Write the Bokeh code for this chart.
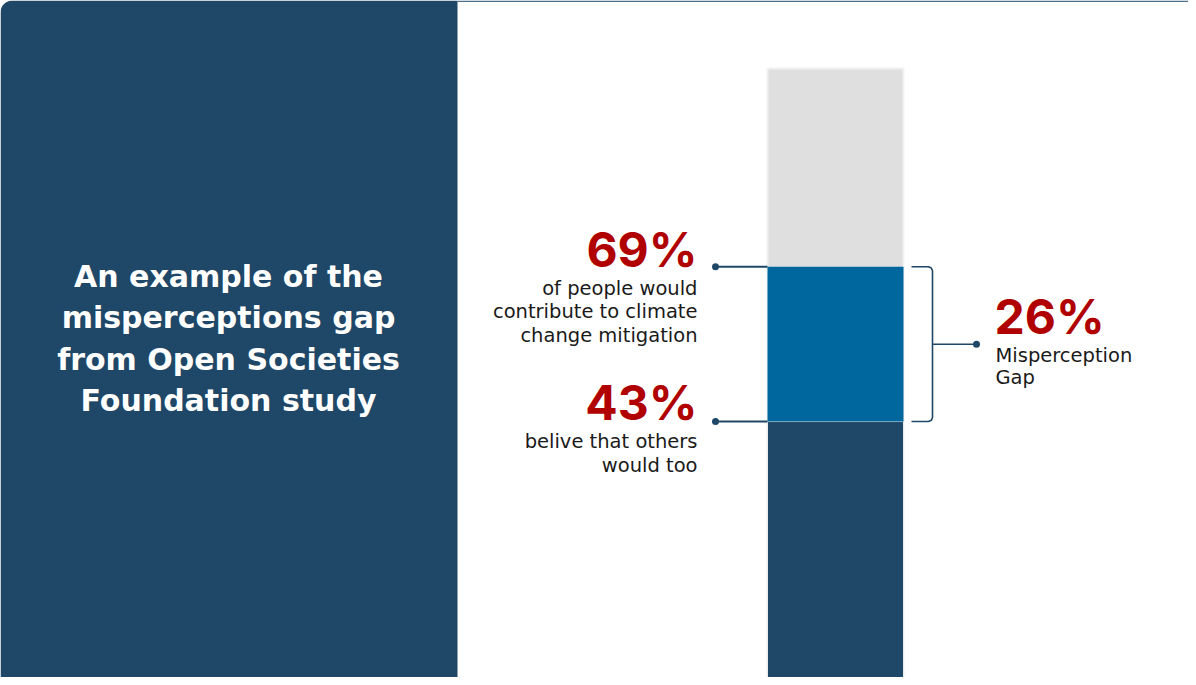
from bokeh.plotting import figure
from bokeh.models import Range1d
from bokeh.core.properties import value
from bokeh.embed import file_html
from bokeh.resources import INLINE

# ---- data ----
would_contribute = 69      # % of people who would contribute
believe_others = 43        # % who believe others would too
gap = would_contribute - believe_others   # 26
track_max = 102.3          # grey background track of the bar

title_lines = ["An example of the", "misperceptions gap", "from Open Societies", "Foundation study"]
top_label_lines = ["of people would", "contribute to climate", "change mitigation"]
bottom_label_lines = ["belive that others", "would too"]
gap_label_lines = ["Misperception", "Gap"]

# ---- style ----
NAVY = "#1f4767"
BLUE = "#00679e"
GREY = "#dfdfdf"
RED = "#b00000"
BIG_FONT = "Inter"
TXT_FONT = "DejaVu Sans"
W, H = 1188, 677
PX_PER_PCT = (685 - 274.3) / 69.0
K = 0.38   # baseline correction (fraction of font size)

p = figure(width=W, height=H, output_backend="svg", toolbar_location=None,
           x_range=Range1d(8, 8 + W), y_range=Range1d(0, (685 - 8) / PX_PER_PCT),
           x_axis_type=None, y_axis_type=None, min_border=0)
p.extra_y_ranges = {"px": Range1d(685, 8)}
p.outline_line_color = None
p.grid.visible = False
p.background_fill_color = "white"
p.border_fill_color = "white"

# left panel + top border
p.quad(left=[8], right=[465], top=[8], bottom=[700], y_range_name="px",
       fill_color=NAVY, line_color=None, border_radius=(12, 0, 0, 0))
p.line(x=[465, 1196], y=[8.7, 8.7], y_range_name="px", line_color="#50708a", line_width=1.6)

def txt(x, y, t, size, font, color, align, bold=False):
    p.text(x=[x], y=[y - K * size], text=[t], y_range_name="px", text_font=value(font),
           text_font_style="bold" if bold else "normal", text_font_size=f"{size}px",
           text_color=color, text_align=align, text_baseline="alphabetic")

# title
for i, t in enumerate(title_lines):
    txt(236, 295 + i * 41.5, t, 30, TXT_FONT, "white", "center", bold=True)

# bar
bx = 843
bw = 136
p.vbar(x=[bx], width=bw, bottom=[0], top=[track_max], fill_color=GREY,
       line_color="#f1f1f1", line_width=2)
p.vbar(x=[bx], width=bw, bottom=[0], top=[believe_others], fill_color=NAVY,
       line_color="#e8ecef", line_width=1)
p.vbar(x=[bx], width=bw, bottom=[believe_others], top=[would_contribute], fill_color=BLUE,
       line_color=None)

# connectors
for v in (would_contribute, believe_others):
    p.line(x=[723, 775], y=[v, v], line_color=NAVY, line_width=2)
    p.scatter(x=[723], y=[v], size=7, fill_color=NAVY, line_color=None)

# bracket
r = 4 / PX_PER_PCT
bxs = [919, 936, 938.8, 940, 940, 938.8, 936, 919]
bys = [would_contribute, would_contribute, would_contribute - r * 0.3, would_contribute - r,
       believe_others + r, believe_others + r * 0.3, believe_others, believe_others]
p.line(x=bxs, y=bys, line_color=NAVY, line_width=1.6)
mid = (would_contribute + believe_others) / 2
p.line(x=[940, 984], y=[mid, mid], line_color=NAVY, line_width=1.6)
p.scatter(x=[984], y=[mid], size=7, fill_color=NAVY, line_color=None)

# labels
txt(705, 275, f"{would_contribute}%", 48, BIG_FONT, RED, "right", bold=True)
for i, t in enumerate(top_label_lines):
    txt(705, 303 + i * 23.5, t, 19.5, TXT_FONT, "#1a1a1a", "right")

txt(705, 428.3, f"{believe_others}%", 48, BIG_FONT, RED, "right", bold=True)
for i, t in enumerate(bottom_label_lines):
    txt(705, 456.7 + i * 23.5, t, 19.5, TXT_FONT, "#1a1a1a", "right")

txt(1002, 342.7, f"{gap}%", 48, BIG_FONT, RED, "left", bold=True)
for i, t in enumerate(gap_label_lines):
    txt(1003, 370 + i * 22, t, 19.5, TXT_FONT, "#1a1a1a", "left")

open("out.html", "w").write(file_html(p, INLINE))
